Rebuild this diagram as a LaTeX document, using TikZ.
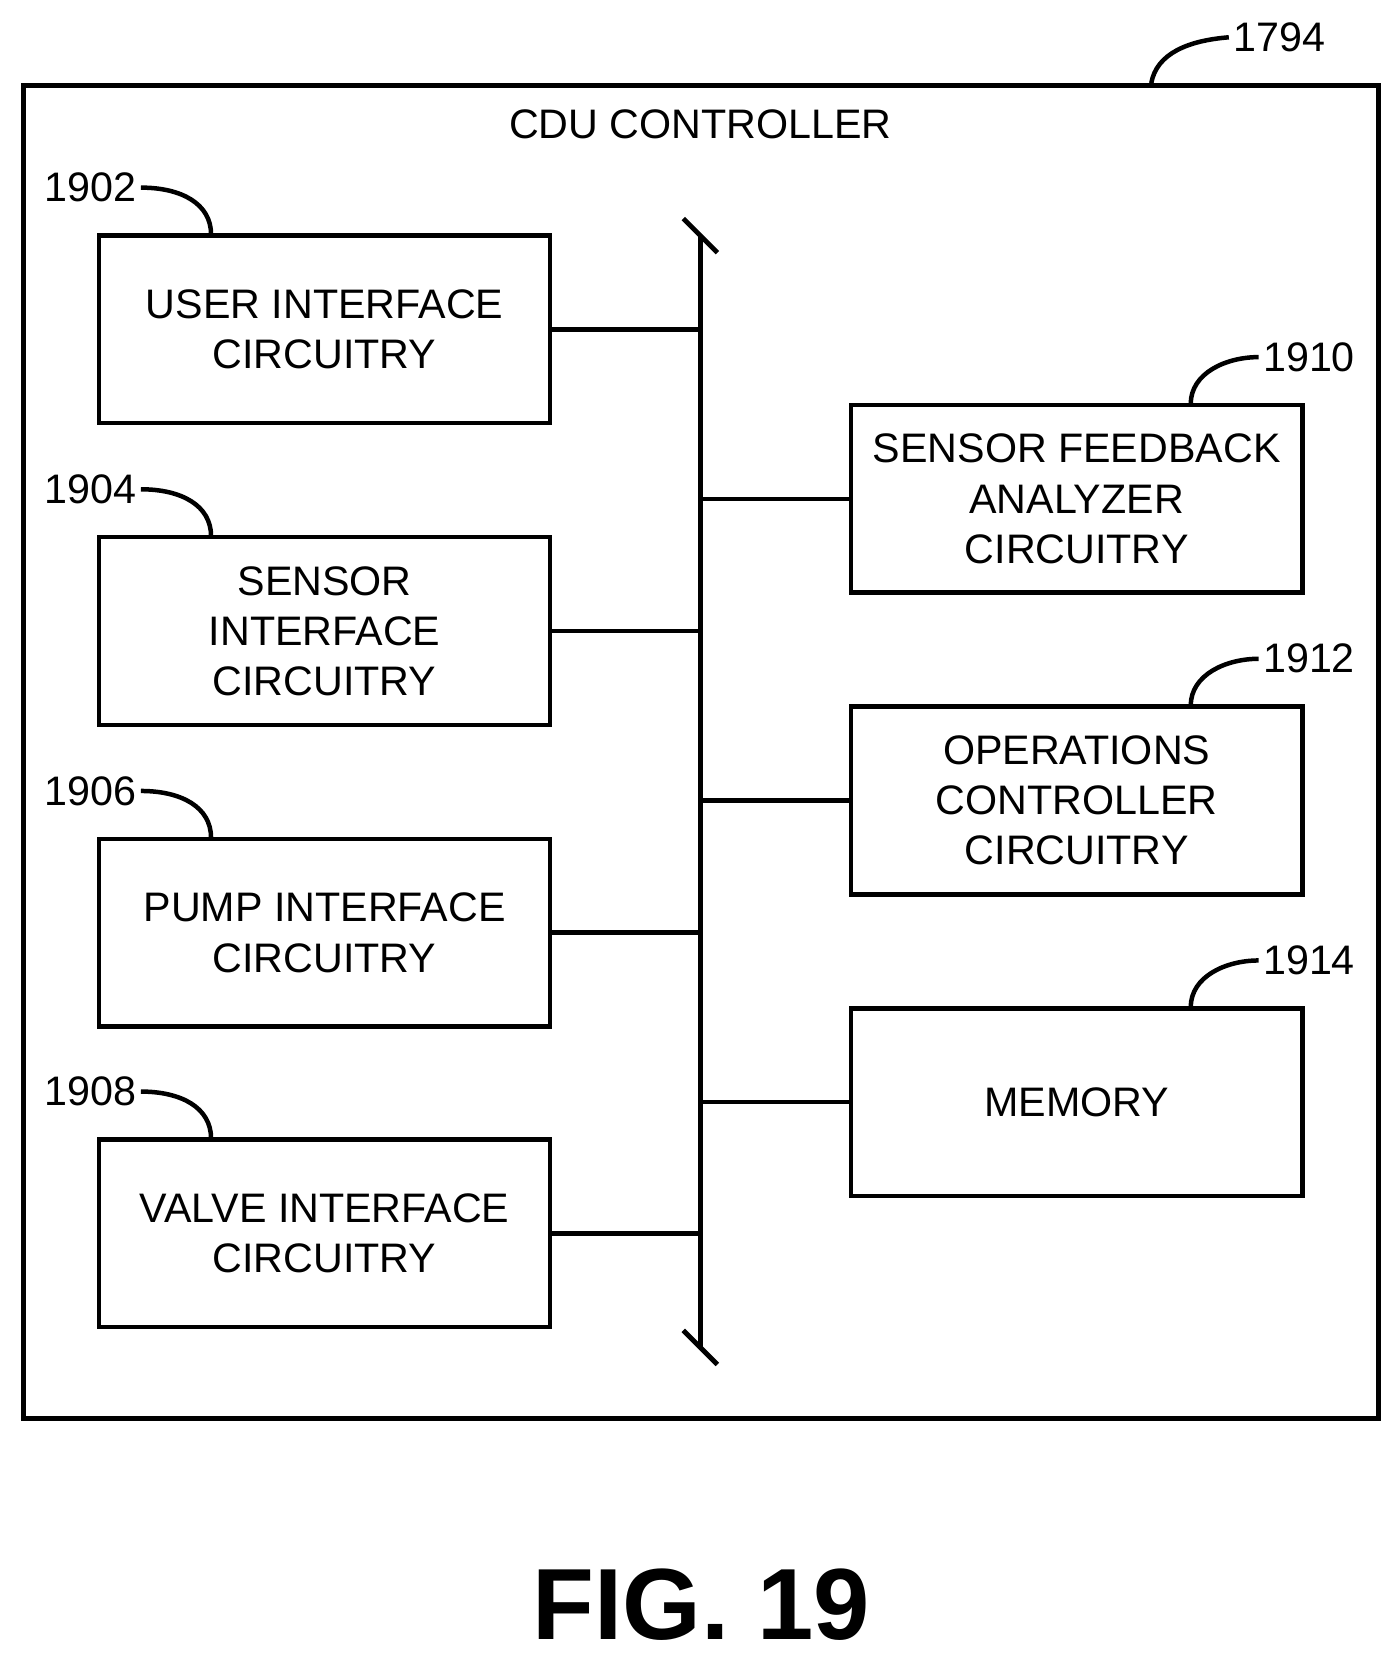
\documentclass[tikz,border=0pt]{standalone}
\usepackage{fontspec}
\setmainfont{Liberation Sans}
\usetikzlibrary{positioning}
\tikzset{
  blk/.style={draw, line width=1.2pt, minimum width=4.23cm, minimum height=1.76cm, align=center, font=\fontsize{11pt}{13.4pt}\selectfont, inner sep=0pt},
  lnk/.style={line width=1.2pt},
  refno/.style={font=\fontsize{11pt}{13pt}\selectfont, inner sep=1pt}
}
\begin{document}
\begin{tikzpicture}[x=0.01cm, y=-0.01cm]
\useasboundingbox (0,0) rectangle (1310,1561);
\node[draw, line width=1.3pt, minimum width=12.7cm, minimum height=12.5cm, anchor=north west, inner sep=0pt] (ctl) at (20,78) {};
\node[refno] (n1794) at (1200,35) {1794};
\draw[lnk] (1080,78) .. controls (1085,50) and (1115,38) .. (n1794.west);
\node[font=\fontsize{11pt}{13pt}\selectfont] (title) at (657,117) {CDU CONTROLLER};

% bus
\coordinate (bt) at (657,220);
\coordinate (bb) at (657,1265);
\draw[line width=1.3pt] (bt) -- (bb);
\draw[line width=1.3pt] (641,205) -- (673,237);
\draw[line width=1.3pt] (641,1248) -- (673,1280);

% left blocks
\foreach \n/\y/\t in {1902/309/{USER INTERFACE\\CIRCUITRY}, 1904/592/{SENSOR\\INTERFACE\\CIRCUITRY}, 1906/875/{PUMP INTERFACE\\CIRCUITRY}, 1908/1157/{VALVE INTERFACE\\CIRCUITRY}}{
  \node[blk] (b\n) at (304.5,\y) {\t};
  \draw[lnk] (b\n.east) -- (657,\y);
  \node[refno] (l\n) at (85,\y-133) {\n};
  \draw[lnk] (l\n.east) .. controls (170,\y-133) and (198,\y-118) .. (198,\y-89);
}

% right blocks
\foreach \n/\y/\t in {1910/468/{SENSOR FEEDBACK\\ANALYZER\\CIRCUITRY}, 1912/751/{OPERATIONS\\CONTROLLER\\CIRCUITRY}, 1914/1034/{MEMORY}}{
  \node[blk] (b\n) at (1010,\y) {\t};
  \draw[lnk] (657,\y) -- (b\n.west);
  \node[refno] (l\n) at (1228,\y-133) {\n};
  \draw[lnk] (1117,\y-89) .. controls (1117,\y-118) and (1150,\y-133) .. (l\n.west);
}

\node[font=\bfseries\fontsize{27pt}{32pt}\selectfont] (fig) at (658,1505) {FIG. 19};
\end{tikzpicture}
\end{document}
